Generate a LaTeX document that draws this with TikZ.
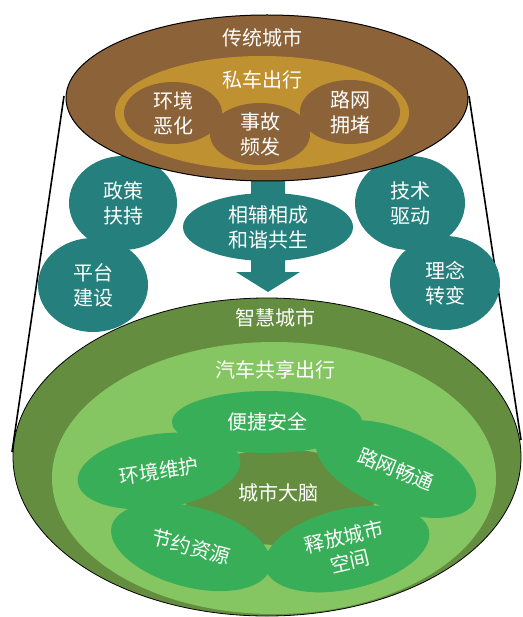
\documentclass[tikz,border=0pt]{standalone}
\usepackage{fontspec}
\newfontfamily\zhfont{Noto Sans CJK SC}
\usepackage{xcolor}
\usetikzlibrary{shapes.geometric}
\definecolor{oldbrown}{RGB}{140,98,57}
\definecolor{oldgold}{RGB}{192,145,48}
\definecolor{bridgeteal}{RGB}{37,128,125}
\definecolor{smartdark}{RGB}{100,141,64}
\definecolor{smartlight}{RGB}{133,198,98}
\definecolor{petalgreen}{RGB}{56,174,88}
\begin{document}
\begin{tikzpicture}[x=1pt,y=-1pt,
  every node/.style={inner sep=0pt,text=white,align=center,font=\zhfont\fontsize{20}{25}\selectfont},
  blob/.style={ellipse,minimum width=#1},
  ]
        \useasboundingbox (0,0) rectangle (522,617);
        \coordinate (tl) at (64,96);
        \coordinate (bl) at (12,452);
        \coordinate (tr) at (469,96);
        \coordinate (br) at (521,440);
        \draw [black,line width=1.6pt] (tl) -- (bl);
        \draw [black,line width=1.6pt] (tr) -- (br);
        \node [blob=508pt,minimum height=318pt,fill=smartdark,draw=black,line width=0.8pt] (smart) at (267,457) {};
        \node [blob=444pt,minimum height=272pt,fill=smartlight] (share) at (274,478) {};
        \node [blob=190pt,minimum height=96pt,fill=smartdark] (brainbg) at (280,497) {};
        \node [blob=190pt,minimum height=62pt,fill=petalgreen] (safe) at (267,422) {便捷安全};
        \node [blob=164pt,minimum height=74pt,fill=petalgreen,rotate=8] (eco) at (159,471) {环境维护};
        \node [blob=170pt,minimum height=80pt,fill=petalgreen,rotate=-22] (road) at (396,469) {路网畅通};
        \node [blob=164pt,minimum height=80pt,fill=petalgreen,rotate=-15] (save) at (191,547) {节约资源};
        \node [blob=168pt,minimum height=80pt,fill=petalgreen,rotate=13] (space) at (347,549) {释放城市\\空间};
        \node (brain) at (278,493) {城市大脑};
        \node (smarttitle) at (275,318) {智慧城市};
        \node (sharetitle) at (275,370) {汽车共享出行};
        \fill [bridgeteal] (251,170) -- (285,170) -- (285,272) -- (300,272) -- (268,292) -- (236,272) -- (251,272) -- cycle;
        \node [blob=108pt,minimum height=94pt,fill=bridgeteal] (policy) at (123,203) {政策\\扶持};
        \node [blob=110pt,minimum height=94pt,fill=bridgeteal] (platform) at (93,285) {平台\\建设};
        \node [blob=110pt,minimum height=94pt,fill=bridgeteal] (tech) at (410,203) {技术\\驱动};
        \node [blob=110pt,minimum height=94pt,fill=bridgeteal] (idea) at (445,283) {理念\\转变};
        \node [blob=170pt,minimum height=68pt,fill=bridgeteal] (mutual) at (268,227) {相辅相成\\和谐共生};
        \node [blob=402pt,minimum height=166pt,fill=oldbrown,draw=black,line width=1pt] (old) at (267,98) {};
        \node [blob=294pt,minimum height=114pt,fill=oldgold] (private) at (262,113) {};
        \node [blob=98pt,minimum height=62pt,fill=oldbrown] (env) at (173,113) {环境\\恶化};
        \node [blob=100pt,minimum height=64pt,fill=oldbrown] (jam) at (350,112) {路网\\拥堵};
        \node [blob=100pt,minimum height=62pt,fill=oldbrown] (crash) at (260,134) {事故\\频发};
        \node (oldtitle) at (262,38) {传统城市};
        \node (privatetitle) at (262,80) {私车出行};
        \end{tikzpicture}
\end{document}
